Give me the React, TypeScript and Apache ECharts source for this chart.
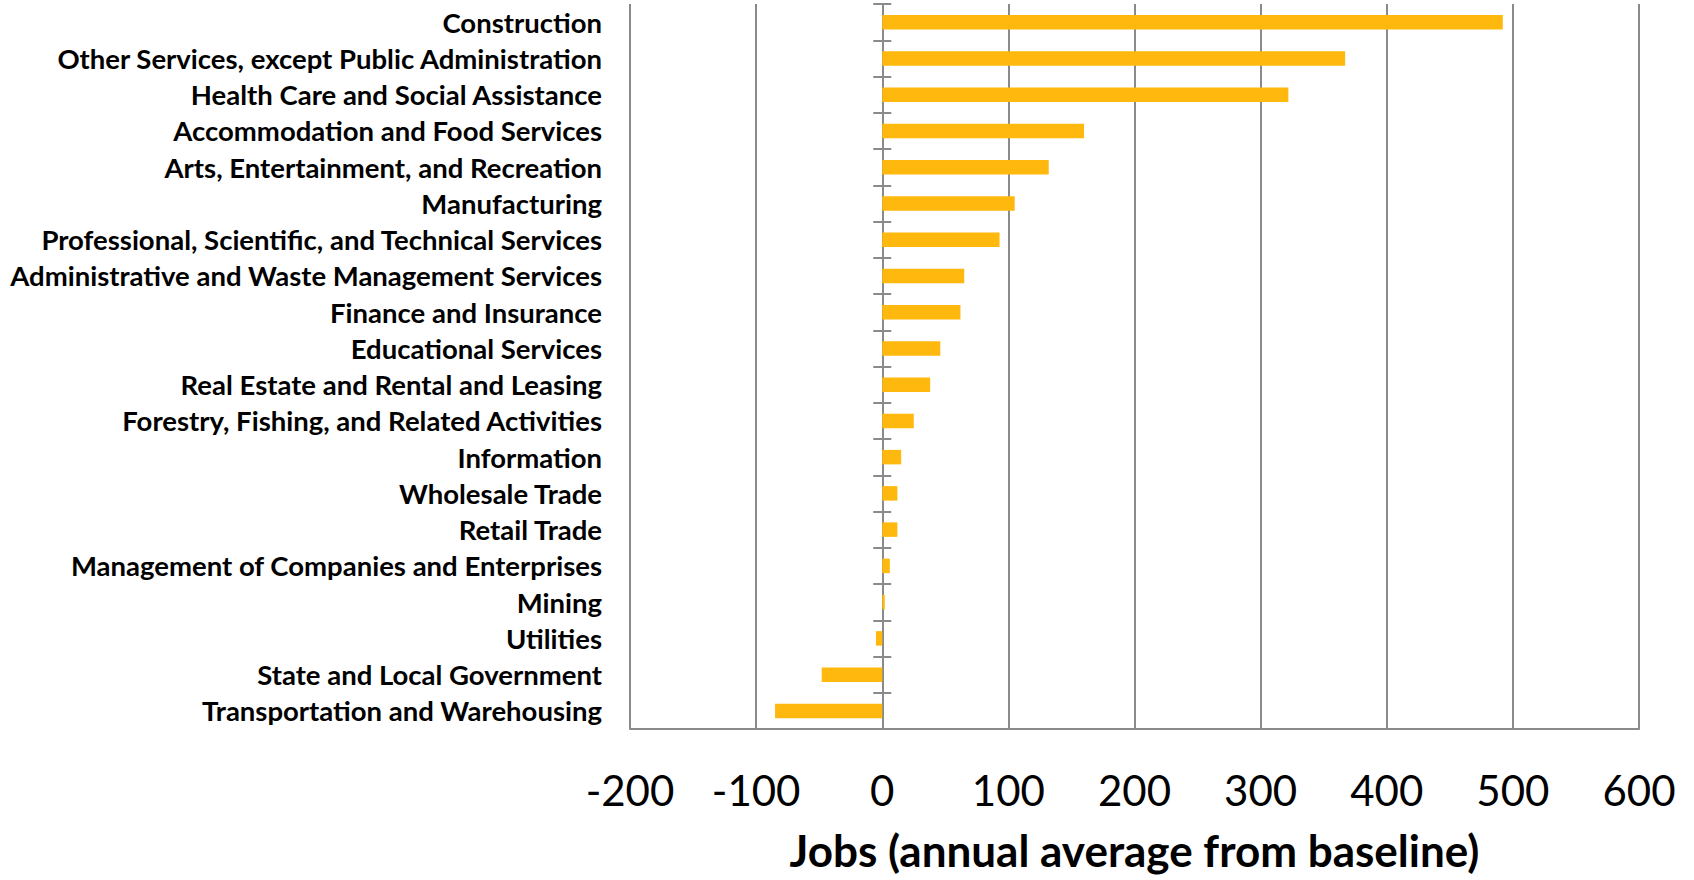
import React, { useEffect, useRef } from "react";
import * as echarts from "echarts";

const categories: string[] = [
  "Construction",
  "Other Services, except Public Administration",
  "Health Care and Social Assistance",
  "Accommodation and Food Services",
  "Arts, Entertainment, and Recreation",
  "Manufacturing",
  "Professional, Scientific, and Technical Services",
  "Administrative and Waste Management Services",
  "Finance and Insurance",
  "Educational Services",
  "Real Estate and Rental and Leasing",
  "Forestry, Fishing, and Related Activities",
  "Information",
  "Wholesale Trade",
  "Retail Trade",
  "Management of Companies and Enterprises",
  "Mining",
  "Utilities",
  "State and Local Government",
  "Transportation and Warehousing",
];

const jobs: number[] = [492, 367, 322, 160, 132, 105, 93, 65, 62, 46, 38, 25, 15, 12, 12, 6, 2, -5, -48, -85];

const xMin = -200;
const xMax = 600;
const xStep = 100;
const xTitle = "Jobs (annual average from baseline)";

const GRAY = "#8a8a8a";
const BAR = "#FFB80E";

export default function App() {
  const ref = useRef<HTMLDivElement>(null);
  useEffect(() => {
    if (!ref.current) return;
    const chart = echarts.init(ref.current, undefined, { renderer: "svg" });
    const hiddenCat = (inside: boolean, showLine: boolean) => ({
      type: "category",
      data: categories,
      inverse: true,
      position: "left",
      axisLine: { show: showLine, onZero: true, onZeroAxisIndex: 0, lineStyle: { color: GRAY, width: 2 } },
      axisTick: { show: true, inside, length: 9, lineStyle: { color: GRAY, width: 2 } },
      axisLabel: { show: false },
      splitLine: { show: false },
    });
    chart.setOption({
      animation: false,
      grid: {
        left: 630,
        right: 55,
        top: 4,
        bottom: 151,
        containLabel: false,
        outerBoundsMode: "none",
      },
      xAxis: {
        type: "value",
        min: xMin,
        max: xMax,
        interval: xStep,
        name: xTitle,
        nameLocation: "middle",
        nameGap: 101,
        nameMoveOverlap: false,
        nameTextStyle: {
          fontFamily: "Lato",
          fontWeight: "bold",
          fontSize: 44,
          lineHeight: 40,
          color: "#000",
        },
        axisLine: { show: true, onZero: false, lineStyle: { color: GRAY, width: 2 } },
        axisTick: { show: false },
        axisLabel: { fontFamily: "Lato", fontSize: 42, color: "#000", margin: 40 },
        splitLine: { show: true, lineStyle: { color: GRAY, width: 2 } },
      },
      yAxis: [
        {
          type: "category",
          data: categories,
          inverse: true,
          position: "left",
          axisLine: { show: false, onZero: false },
          axisTick: { show: false },
          axisLabel: {
            interval: 0,
            margin: 28,
            fontFamily: "Lato",
            fontWeight: "bold",
            fontSize: 27.5,
            color: "#000",
          },
        },
        hiddenCat(false, true),
        hiddenCat(true, false),
      ],
      series: [
        {
          type: "bar",
          data: jobs,
          barWidth: "40%",
          itemStyle: { color: BAR },
        },
      ],
    });
    return () => chart.dispose();
  }, []);
  return (
    <div
      ref={ref}
      style={{ position: "absolute", left: 0, top: 0, width: 1694, height: 880 }}
    />
  );
}
